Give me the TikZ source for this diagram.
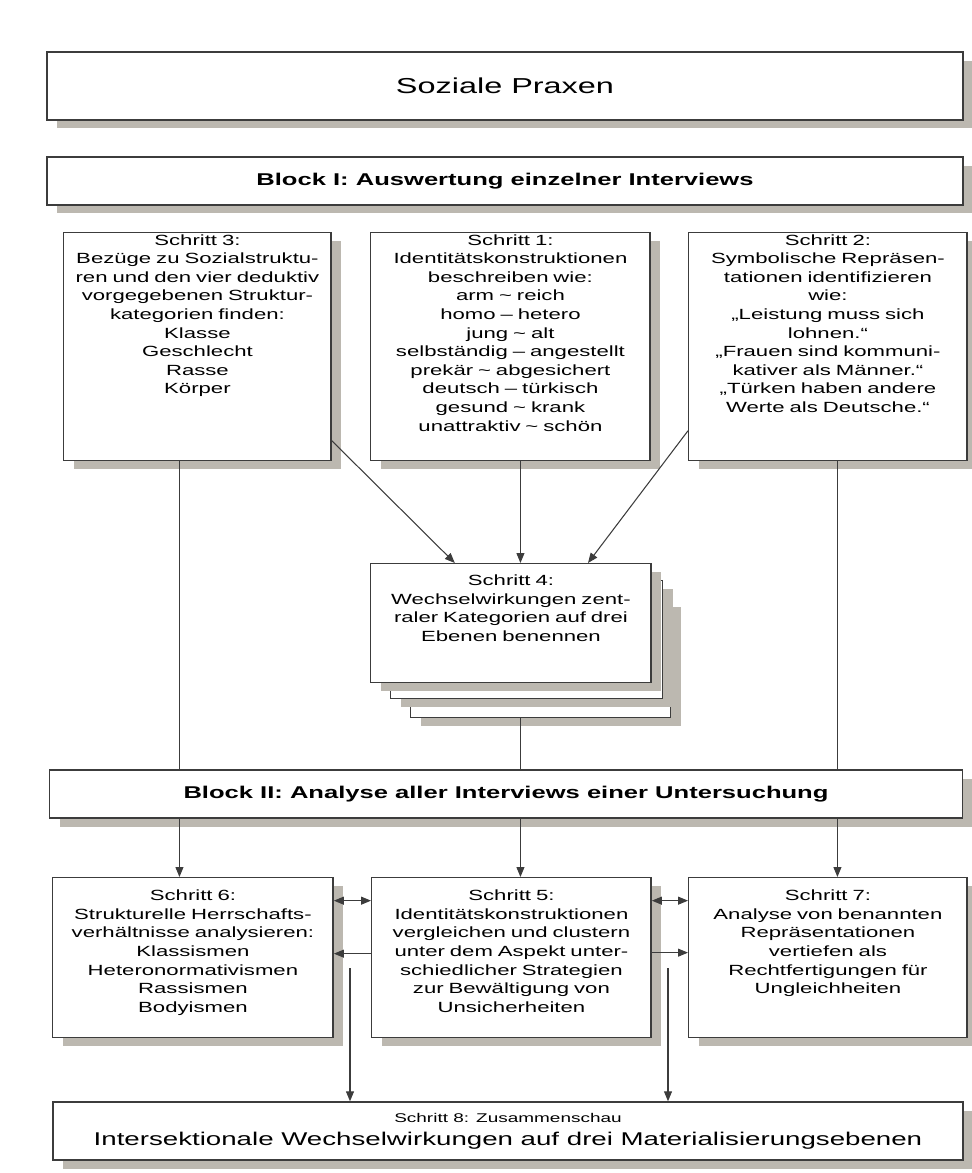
\documentclass[tikz,border=0pt]{standalone}
\usepackage{fontspec}
\setmainfont[FakeStretch=1.5]{Liberation Sans}
\usetikzlibrary{arrows.meta,shadows}
\definecolor{shade}{RGB}{188,184,176}
\definecolor{edge}{RGB}{60,60,60}
\newcommand{\steptext}{\fontsize{8.4}{10.6}\selectfont}
\newcommand{\blocktext}{\fontsize{9.7}{12}\selectfont\bfseries}
\tikzset{
  box/.style={draw=edge,line width=0.8pt,fill=white,inner sep=2pt,
    drop shadow={shadow xshift=0.2cm,shadow yshift=-0.17cm,fill=shade,opacity=1}},
  stepbox/.style n args={3}{box,anchor=north west,align=center,font=\steptext,
    text width=#1,text height=#2,text depth=#3},
  ln/.style={line width=0.6pt,edge},
  arr/.style={ln,-{Triangle[length=2mm,width=1.6mm]}},
  both/.style={ln,{Triangle[length=2mm,width=1.6mm]}-{Triangle[length=2mm,width=1.6mm]}}
}

\begin{document}
\begin{tikzpicture}[x=0.02cm,y=-0.02cm]
\useasboundingbox (0,0) rectangle (972,1173);
% headings
\node[box,minimum width=18.32cm,minimum height=1.36cm,font=\fontsize{12.3}{14}\selectfont] (praxen) at (505,86) {Soziale Praxen};
\node[box,minimum width=18.32cm,minimum height=0.96cm,font=\blocktext] (block1) at (505,181) {Block I: Auswertung einzelner Interviews};
% block I
\node[stepbox={5.21cm}{5pt}{120.7pt}] (s3) at (63,232) {Schritt 3:\\ Bezüge zu Sozialstruktu-\\ ren und den vier deduktiv\\ vorgegebenen Struktur-\\ kategorien finden:\\ Klasse\\ Geschlecht\\ Rasse\\ Körper};
\node[stepbox={5.45cm}{5pt}{120.7pt}] (s1) at (370,232) {Schritt 1:\\ Identitätskonstruktionen\\ beschreiben wie:\\ arm \textasciitilde{} reich\\ homo -- hetero\\ jung \textasciitilde{} alt\\ selbständig -- angestellt\\ prekär \textasciitilde{} abgesichert\\ deutsch -- türkisch\\ gesund \textasciitilde{} krank\\ unattraktiv \textasciitilde{} schön};
\node[stepbox={5.43cm}{5pt}{120.7pt}] (s2) at (688,232) {Schritt 2:\\ Symbolische Repräsen-\\ tationen identifizieren\\ wie:\\ „Leistung muss sich\\ lohnen.“\\ „Frauen sind kommuni-\\ kativer als Männer.“\\ „Türken haben andere\\ Werte als Deutsche.“};
% stack
\node[box,anchor=north west,minimum width=5.2cm,minimum height=2.38cm] (s4c) at (410,598) {};
\node[box,anchor=north west,minimum width=5.44cm,minimum height=2.36cm] (s4b) at (390,580) {};
\node[stepbox={5.47cm}{10.5pt}{53.2pt}] (s4) at (370,563) {Schritt 4:\\ Wechselwirkungen zent-\\ raler Kategorien auf drei\\ Ebenen benennen};
% block II
\node[box,minimum width=18.26cm,minimum height=0.96cm,font=\blocktext] (block2) at (506,794) {Block II: Analyse aller Interviews einer Untersuchung};
\node[stepbox={5.47cm}{11pt}{76pt}] (s6) at (52,877) {Schritt 6:\\ Strukturelle Herrschafts-\\ verhältnisse analysieren:\\ Klassismen\\ Heteronormativismen\\ Rassismen\\ Bodyismen};
\node[stepbox={5.45cm}{11pt}{76pt}] (s5) at (371,877) {Schritt 5:\\ Identitätskonstruktionen\\ vergleichen und clustern\\ unter dem Aspekt unter-\\ schiedlicher Strategien\\ zur Bewältigung von\\ Unsicherheiten};
\node[stepbox={5.43cm}{11pt}{76pt}] (s7) at (688,877) {Schritt 7:\\ Analyse von benannten\\ Repräsentationen\\ vertiefen als\\ Rechtfertigungen für\\ Ungleichheiten};
\node[box,minimum width=18.2cm,minimum height=1.16cm,align=center,font=\fontsize{10.5}{13}\selectfont] (s8) at (508,1131) {{\fontsize{7.2}{9}\selectfont Schritt 8: Zusammenschau}\\ Intersektionale Wechselwirkungen auf drei Materialisierungsebenen};
\coordinate (j1) at (350,968);
\coordinate (j2) at (668,968);

% connectors
\draw[arr] (s3.-35) -- (s4.133);
\draw[arr] ([xshift=0.2cm]s1.south) -- ([xshift=0.2cm]s1.south |- s4.north);
\draw[arr] (s2.211) -- (s4.38);
\draw[ln] ([xshift=-0.36cm]s3.south) -- ([xshift=-0.36cm]s3.south |- block2.north);
\draw[ln] ([xshift=0.2cm]s1.south |- s4c.south) -- ([xshift=0.2cm]s1.south |- block2.north);
\draw[ln] ([xshift=0.19cm]s2.south) -- ([xshift=0.19cm]s2.south |- block2.north);
\draw[arr] ([xshift=-0.36cm]s3.south |- block2.south) -- ([xshift=-0.36cm]s3.south |- s6.north);
\draw[arr] ([xshift=0.2cm]s1.south |- block2.south) -- ([xshift=0.2cm]s1.south |- s5.north);
\draw[arr] ([xshift=0.19cm]s2.south |- block2.south) -- ([xshift=0.19cm]s2.south |- s7.north);
\draw[both] ([yshift=1.14cm]s6.east) -- ([yshift=1.14cm]s5.west);
\draw[arr] ([yshift=0.08cm]s5.west) -- ([yshift=0.08cm]s6.east);
\draw[both] ([yshift=1.14cm]s5.east) -- ([yshift=1.14cm]s7.west);
\draw[arr] ([yshift=0.1cm]s5.east) -- ([yshift=0.1cm]s7.west);
\draw[arr] (j1) -- (j1 |- s8.north);
\draw[arr] (j2) -- (j2 |- s8.north);
\end{tikzpicture}
\end{document}
